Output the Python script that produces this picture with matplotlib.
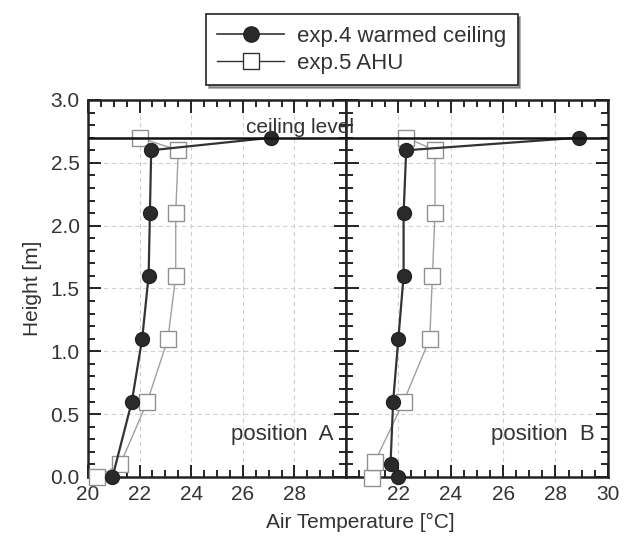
import matplotlib.pyplot as plt
import numpy as np
from matplotlib.ticker import MultipleLocator
from matplotlib.lines import Line2D

plt.rcParams['font.family'] = ['Liberation Sans', 'DejaVu Sans']

# position A
heights_a4 = [0.0, 0.6, 1.1, 1.6, 2.1, 2.6, 2.7]
temps_a4 = [20.95, 21.7, 22.1, 22.35, 22.4, 22.45, 27.1]
heights_a5 = [0.0, 0.1, 0.6, 1.1, 1.6, 2.1, 2.6, 2.7]
temps_a5 = [20.35, 21.25, 22.3, 23.1, 23.4, 23.4, 23.5, 22.0]

# position B
heights_b4 = [0.0, 0.1, 0.6, 1.1, 1.6, 2.1, 2.6, 2.7]
temps_b4 = [22.0, 21.7, 21.8, 22.0, 22.2, 22.2, 22.3, 28.9]
heights_b5 = [-0.01, 0.12, 0.6, 1.1, 1.6, 2.1, 2.6, 2.7]
temps_b5 = [21.0, 21.1, 22.2, 23.2, 23.3, 23.4, 23.4, 22.3]

ceiling = 2.7
label4 = 'exp.4 warmed ceiling'
label5 = 'exp.5 AHU'

txt = '#333333'
fig = plt.figure(figsize=(6.24, 5.42), dpi=100)
axa = fig.add_axes([0.141, 0.12, 0.4135, 0.6955])
axb = fig.add_axes([0.5545, 0.12, 0.4195, 0.6955], sharey=axa)

panels = [(axa, temps_a4, heights_a4, temps_a5, heights_a5, 'position  A'),
          (axb, temps_b4, heights_b4, temps_b5, heights_b5, 'position  B')]

for ax, t4, h4, t5, h5, name in panels:
    ax.plot(t5, h5, '-', color='#a0a0a0', lw=1.0, marker='s', ms=11,
            mfc='white', mec='#909090', mew=1.0, zorder=3, clip_on=False)
    ax.plot(t4, h4, '-', color='#333333', lw=1.6, marker='o', ms=10,
            mfc='#2a2a2a', mec='#222222', zorder=4, clip_on=False)
    ax.axhline(ceiling, color='#111111', lw=1.8, zorder=5)
    ax.set_xlim(20, 30)
    ax.set_ylim(0, 3.0)
    ax.xaxis.set_major_locator(MultipleLocator(2))
    ax.xaxis.set_minor_locator(MultipleLocator(0.5))
    ax.yaxis.set_major_locator(MultipleLocator(0.5))
    ax.yaxis.set_minor_locator(MultipleLocator(0.1))
    ax.grid(True, which='major', color='#d0d0d0', ls=(0, (4, 3)), lw=0.8)
    ax.tick_params(which='both', direction='in', top=True, right=True,
                   labelsize=15, labelcolor=txt, width=1.2, pad=6)
    ax.tick_params(which='major', length=9)
    ax.tick_params(which='minor', length=5)
    for s in ax.spines.values():
        s.set_linewidth(1.8)
        s.set_color('#222222')
    ax.text(0.95, 0.085, name, transform=ax.transAxes, ha='right', va='bottom',
            fontsize=16, color=txt)

axa.set_xticks([20, 22, 24, 26, 28])
axb.set_xticks([22, 24, 26, 28, 30])
axb.xaxis.set_minor_locator(MultipleLocator(0.5))
axb.tick_params(labelleft=False)
axa.set_yticks(np.arange(0, 3.01, 0.5))
axa.set_yticklabels([f'{v:.1f}' for v in np.arange(0, 3.01, 0.5)])
axa.set_ylabel('Height [m]', fontsize=15, color=txt, labelpad=6)

fig.text(0.4807, 0.748, 'ceiling level', ha='center', va='bottom',
         fontsize=15, color=txt, zorder=10)
fig.text(0.577, 0.025, 'Air Temperature [°C]', ha='center', fontsize=15, color=txt)

handles = [Line2D([], [], color='#333333', lw=1.2, marker='o', ms=11,
                  mfc='#2a2a2a', mec='#222222'),
           Line2D([], [], color='#333333', lw=1.0, marker='s', ms=11,
                  mfc='white', mec='#333333')]
leg = fig.legend(handles, [label4, label5], loc='center',
                 bbox_to_anchor=(0.58, 0.908), fontsize=16, frameon=True,
                 fancybox=False, shadow=True, handlelength=3.0,
                 labelspacing=0.3, borderpad=0.5, handletextpad=0.6)
leg.get_frame().set_edgecolor('#222222')
leg.get_frame().set_linewidth(1.2)
for t in leg.get_texts():
    t.set_color(txt)

plt.savefig('out.png', dpi=100)
